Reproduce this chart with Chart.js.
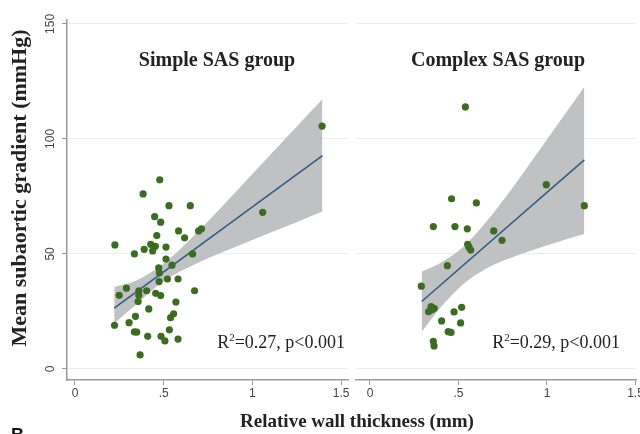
<!DOCTYPE html>
<html>
<head>
<meta charset="utf-8">
<script src="https://cdn.jsdelivr.net/npm/chart.js@4.4.1/dist/chart.umd.min.js"></script>
<style>
  body { margin: 0; background: #fff; }
  #wrap { position: relative; width: 640px; height: 434px; overflow: hidden; background: #fff; }
  #wrap canvas { position: absolute; top: 0; }
  .txt { position: absolute; white-space: nowrap; font-family: "Liberation Serif", "Times New Roman", serif; color: #222; }
  .title { font-weight: bold; font-size: 20px; line-height: 20px; text-align: center; width: 240px; }
  .stat { font-size: 18px; line-height: 18px; text-align: right; width: 200px; }
  .stat sup { font-size: 11px; vertical-align: 7px; line-height: 0; }
</style>
</head>
<body>
<div id="wrap">
  <canvas id="simpleChart" width="352" height="434" style="left:0;width:352px;height:434px"></canvas>
  <canvas id="complexChart" width="288" height="434" style="left:352px;width:288px;height:434px"></canvas>

  <div class="txt title" style="left:97px;top:49px">Simple SAS group</div>
  <div class="txt title" style="left:378px;top:49px">Complex SAS group</div>
  <div class="txt stat" style="left:145px;top:333px">R<sup>2</sup>=0.27, p&lt;0.001</div>
  <div class="txt stat" style="left:420px;top:333px">R<sup>2</sup>=0.29, p&lt;0.001</div>
  <div class="txt" style="left:207px;top:411px;width:300px;text-align:center;font-weight:bold;font-size:19px;line-height:19px">Relative wall thickness (mm)</div>
  <div class="txt" style="left:19px;top:188px;width:380px;margin-left:-190px;margin-top:-11px;text-align:center;font-weight:bold;font-size:22px;line-height:22px;transform:rotate(-90deg)">Mean subaortic gradient (mmHg)</div>
  <div class="txt" style="left:11px;top:426px;font-family:'Liberation Sans',Arial,sans-serif;font-weight:bold;font-size:18px;line-height:18px;color:#111">B</div>
</div>

<script>
// axis ticks
const xTicks = [0, 0.5, 1, 1.5];
const xTickLabels = ["0", ".5", "1", "1.5"];
const yTicks = [0, 50, 100, 150];
const yTickLabels = ["0", "50", "100", "150"];

// Simple SAS group: relative wall thickness vs mean gradient
const simpleX = [1.393, 0.478, 0.384, 0.530, 0.650, 1.058, 0.449, 0.483, 0.584, 0.697, 0.713, 0.461,
  0.618, 0.225, 0.427, 0.453, 0.390, 0.438, 0.513, 0.335, 0.663, 0.513, 0.547, 0.472, 0.476, 0.521,
  0.581, 0.474, 0.290, 0.674, 0.360, 0.404, 0.249, 0.360, 0.455, 0.483, 0.356, 0.569, 0.416, 0.341,
  0.556, 0.539, 0.223, 0.305, 0.532, 0.335, 0.348, 0.410, 0.485, 0.507, 0.581, 0.367];
const simpleY = [105.6, 82.2, 76.1, 71.0, 71.0, 68.1, 66.2, 63.8, 60.0, 60.0, 60.9, 58.0,
  57.0, 53.9, 54.2, 53.3, 52.0, 51.3, 53.0, 50.0, 50.0, 47.8, 45.1, 43.9, 41.7, 39.1,
  39.1, 38.0, 35.1, 34.0, 34.0, 34.0, 32.0, 32.0, 32.9, 31.9, 29.3, 29.1, 26.1, 22.9,
  24.0, 22.3, 19.0, 20.1, 17.0, 16.1, 16.0, 14.2, 14.2, 12.2, 13.0, 6.1];
const simpleFitX = [0.221, 1.395];
const simpleFitY = [26.4, 92.7];
const simpleBandX = [0.221, 0.35, 0.5, 0.7, 0.9, 1.1, 1.25, 1.395];
const simpleBandLow = [19.8, 28.4, 38.2, 46.4, 52.9, 59.2, 63.8, 68.4];
const simpleBandHigh = [35.6, 38.6, 45.8, 60.3, 76.5, 93.0, 105.4, 117.2];

// Complex SAS group
const complexX = [0.539, 0.996, 0.461, 0.601, 1.211, 0.358, 0.480, 0.550, 0.699, 0.746, 0.552, 0.559,
  0.569, 0.437, 0.290, 0.345, 0.363, 0.331, 0.350, 0.518, 0.475, 0.405, 0.512, 0.442, 0.458, 0.358, 0.362];
const complexY = [113.9, 80.1, 74.0, 72.2, 71.0, 61.9, 61.9, 60.9, 60.0, 55.9, 54.2, 53.0,
  51.7, 44.9, 36.0, 27.1, 26.4, 24.9, 25.7, 26.8, 24.8, 20.9, 20.0, 16.2, 15.9, 12.0, 10.0];
const complexFitX = [0.292, 1.211];
const complexFitY = [29.3, 90.9];
const complexBandX = [0.292, 0.4, 0.52, 0.65, 0.8, 0.95, 1.1, 1.211];
const complexBandLow = [16.2, 26.8, 36.4, 43.3, 48.4, 52.5, 56.2, 58.7];
const complexBandHigh = [42.3, 46.2, 52.6, 63.3, 78.2, 94.3, 110.6, 122.7];

const green = "#3c6c21";
const blue = "#2e5b86";
const bandGrey = "#bfc1c3";
const axisGrey = "#9a9a9a";

function pairs(xs, ys) {
  return xs.map((x, i) => ({ x: x, y: ys[i] }));
}

function makePanel(id, xs, ys, fitX, fitY, bandX, bandLow, bandHigh, xMin, xMax, showY, pad) {
  return new Chart(document.getElementById(id), {
    type: "scatter",
    data: {
      datasets: [
        { data: pairs(xs, ys), backgroundColor: green, borderWidth: 0, pointRadius: 3.6, order: 0 },
        { type: "line", data: pairs(fitX, fitY), borderColor: blue, borderWidth: 1.5, pointRadius: 0, fill: false, order: 1 },
        { type: "line", data: pairs(bandX, bandHigh), borderWidth: 0, borderColor: "rgba(0,0,0,0)", pointRadius: 0,
          fill: 3, backgroundColor: bandGrey, cubicInterpolationMode: "monotone", order: 2 },
        { type: "line", data: pairs(bandX, bandLow), borderWidth: 0, borderColor: "rgba(0,0,0,0)", pointRadius: 0,
          fill: false, cubicInterpolationMode: "monotone", order: 3 }
      ]
    },
    options: {
      responsive: false,
      animation: false,
      devicePixelRatio: 1,
      layout: { padding: pad },
      plugins: { legend: { display: false }, tooltip: { enabled: false } },
      scales: {
        x: {
          type: "linear",
          min: xMin,
          max: xMax,
          afterBuildTicks: s => { s.ticks = xTicks.map(v => ({ value: v })); },
          afterFit: s => { s.height = 20; s.paddingLeft = 0; s.paddingRight = 0; },
          grid: { drawOnChartArea: false, tickLength: 5, tickColor: axisGrey, lineWidth: 1 },
          border: { color: axisGrey, width: 1.5 },
          ticks: {
            autoSkip: false, maxRotation: 0, padding: 1,
            callback: (v, i) => xTickLabels[i],
            color: "#444",
            font: { family: "Liberation Sans", size: 12 }
          }
        },
        y: {
          type: "linear",
          min: -4.8,
          max: 151.7,
          afterBuildTicks: s => { s.ticks = yTicks.map(v => ({ value: v })); },
          afterFit: s => { s.width = showY ? 67 : 0; s.paddingTop = 0; s.paddingBottom = 0; },
          grid: { color: "#ededed", lineWidth: 1, tickColor: axisGrey, tickLength: showY ? 5 : 0, drawTicks: showY },
          border: { display: showY, color: axisGrey, width: 1.5 },
          ticks: {
            display: showY, minRotation: 90, maxRotation: 90, crossAlign: "center", padding: 1,
            callback: (v, i) => yTickLabels[i],
            color: "#444",
            font: { family: "Liberation Sans", size: 12 }
          }
        }
      }
    }
  });
}

makePanel("simpleChart", simpleX, simpleY, simpleFitX, simpleFitY, simpleBandX, simpleBandLow, simpleBandHigh,
  -0.045, 1.539, true, { left: 0, right: 3, top: 20, bottom: 34 });
makePanel("complexChart", complexX, complexY, complexFitX, complexFitY, complexBandX, complexBandLow, complexBandHigh,
  -0.079, 1.503, false, { left: 3, right: 0, top: 20, bottom: 34 });
</script>
</body>
</html>
